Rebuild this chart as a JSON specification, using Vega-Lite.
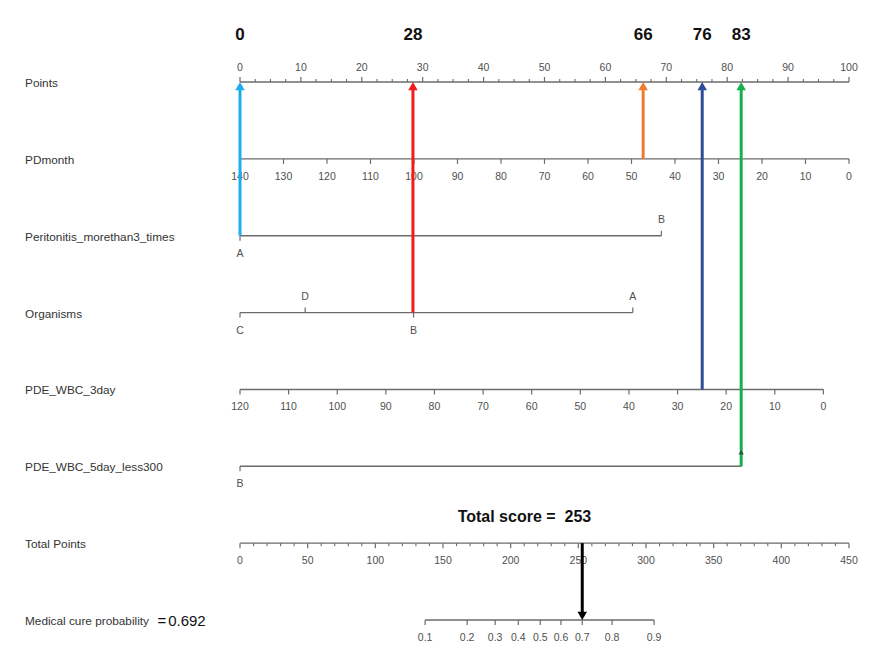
{
  "$schema": "https://vega.github.io/schema/vega-lite/v6.json",
  "autosize": {"type": "fit", "contains": "padding"},
  "width": 884,
  "height": 646,
  "padding": 0,
  "background": "white",
  "config": {"view": {"stroke": null}},
  "datasets": {
    "rows": [
      {"row": 0, "name": "Points"},
      {"row": 1, "name": "PDmonth"},
      {"row": 2, "name": "Peritonitis_morethan3_times"},
      {"row": 3, "name": "Organisms"},
      {"row": 4, "name": "PDE_WBC_3day"},
      {"row": 5, "name": "PDE_WBC_5day_less300"},
      {"row": 6, "name": "Total Points"},
      {"row": 7, "name": "Medical cure probability"}
    ],
    "lines": [
      {"row": 0, "start": 0, "end": 100},
      {"row": 1, "start": 0, "end": 100},
      {"row": 2, "start": 0, "end": 69.2},
      {"row": 3, "start": 0, "end": 64.5},
      {"row": 4, "start": 0, "end": 95.8},
      {"row": 5, "start": 0, "end": 82.3},
      {"row": 6, "start": 0, "end": 100},
      {"row": 7, "start": 30.4, "end": 68.0}
    ],
    "ticks": [
      {"row": 0, "pos": 0, "label": "0", "kind": "major", "side": "above"},
      {"row": 0, "pos": 10, "label": "10", "kind": "major", "side": "above"},
      {"row": 0, "pos": 20, "label": "20", "kind": "major", "side": "above"},
      {"row": 0, "pos": 30, "label": "30", "kind": "major", "side": "above"},
      {"row": 0, "pos": 40, "label": "40", "kind": "major", "side": "above"},
      {"row": 0, "pos": 50, "label": "50", "kind": "major", "side": "above"},
      {"row": 0, "pos": 60, "label": "60", "kind": "major", "side": "above"},
      {"row": 0, "pos": 70, "label": "70", "kind": "major", "side": "above"},
      {"row": 0, "pos": 80, "label": "80", "kind": "major", "side": "above"},
      {"row": 0, "pos": 90, "label": "90", "kind": "major", "side": "above"},
      {"row": 0, "pos": 100, "label": "100", "kind": "major", "side": "above"},
      {"row": 0, "pos": 2.5, "kind": "minor", "side": "above"},
      {"row": 0, "pos": 5, "kind": "minor", "side": "above"},
      {"row": 0, "pos": 7.5, "kind": "minor", "side": "above"},
      {"row": 0, "pos": 12.5, "kind": "minor", "side": "above"},
      {"row": 0, "pos": 15, "kind": "minor", "side": "above"},
      {"row": 0, "pos": 17.5, "kind": "minor", "side": "above"},
      {"row": 0, "pos": 22.5, "kind": "minor", "side": "above"},
      {"row": 0, "pos": 25, "kind": "minor", "side": "above"},
      {"row": 0, "pos": 27.5, "kind": "minor", "side": "above"},
      {"row": 0, "pos": 32.5, "kind": "minor", "side": "above"},
      {"row": 0, "pos": 35, "kind": "minor", "side": "above"},
      {"row": 0, "pos": 37.5, "kind": "minor", "side": "above"},
      {"row": 0, "pos": 42.5, "kind": "minor", "side": "above"},
      {"row": 0, "pos": 45, "kind": "minor", "side": "above"},
      {"row": 0, "pos": 47.5, "kind": "minor", "side": "above"},
      {"row": 0, "pos": 52.5, "kind": "minor", "side": "above"},
      {"row": 0, "pos": 55, "kind": "minor", "side": "above"},
      {"row": 0, "pos": 57.5, "kind": "minor", "side": "above"},
      {"row": 0, "pos": 62.5, "kind": "minor", "side": "above"},
      {"row": 0, "pos": 65, "kind": "minor", "side": "above"},
      {"row": 0, "pos": 67.5, "kind": "minor", "side": "above"},
      {"row": 0, "pos": 72.5, "kind": "minor", "side": "above"},
      {"row": 0, "pos": 75, "kind": "minor", "side": "above"},
      {"row": 0, "pos": 77.5, "kind": "minor", "side": "above"},
      {"row": 0, "pos": 82.5, "kind": "minor", "side": "above"},
      {"row": 0, "pos": 85, "kind": "minor", "side": "above"},
      {"row": 0, "pos": 87.5, "kind": "minor", "side": "above"},
      {"row": 0, "pos": 92.5, "kind": "minor", "side": "above"},
      {"row": 0, "pos": 95, "kind": "minor", "side": "above"},
      {"row": 0, "pos": 97.5, "kind": "minor", "side": "above"},

      {"row": 1, "pos": 0, "label": "140", "kind": "major", "side": "below"},
      {"row": 1, "pos": 7.143, "label": "130", "kind": "major", "side": "below"},
      {"row": 1, "pos": 14.286, "label": "120", "kind": "major", "side": "below"},
      {"row": 1, "pos": 21.429, "label": "110", "kind": "major", "side": "below"},
      {"row": 1, "pos": 28.571, "label": "100", "kind": "major", "side": "below"},
      {"row": 1, "pos": 35.714, "label": "90", "kind": "major", "side": "below"},
      {"row": 1, "pos": 42.857, "label": "80", "kind": "major", "side": "below"},
      {"row": 1, "pos": 50, "label": "70", "kind": "major", "side": "below"},
      {"row": 1, "pos": 57.143, "label": "60", "kind": "major", "side": "below"},
      {"row": 1, "pos": 64.286, "label": "50", "kind": "major", "side": "below"},
      {"row": 1, "pos": 71.429, "label": "40", "kind": "major", "side": "below"},
      {"row": 1, "pos": 78.571, "label": "30", "kind": "major", "side": "below"},
      {"row": 1, "pos": 85.714, "label": "20", "kind": "major", "side": "below"},
      {"row": 1, "pos": 92.857, "label": "10", "kind": "major", "side": "below"},
      {"row": 1, "pos": 100, "label": "0", "kind": "major", "side": "below"},

      {"row": 2, "pos": 0, "label": "A", "kind": "major", "side": "below"},
      {"row": 2, "pos": 69.2, "label": "B", "kind": "major", "side": "above"},

      {"row": 3, "pos": 0, "label": "C", "kind": "major", "side": "below"},
      {"row": 3, "pos": 10.7, "label": "D", "kind": "major", "side": "above"},
      {"row": 3, "pos": 28.5, "label": "B", "kind": "major", "side": "below"},
      {"row": 3, "pos": 64.5, "label": "A", "kind": "major", "side": "above"},

      {"row": 4, "pos": 0, "label": "120", "kind": "major", "side": "below"},
      {"row": 4, "pos": 7.98, "label": "110", "kind": "major", "side": "below"},
      {"row": 4, "pos": 15.97, "label": "100", "kind": "major", "side": "below"},
      {"row": 4, "pos": 23.95, "label": "90", "kind": "major", "side": "below"},
      {"row": 4, "pos": 31.93, "label": "80", "kind": "major", "side": "below"},
      {"row": 4, "pos": 39.92, "label": "70", "kind": "major", "side": "below"},
      {"row": 4, "pos": 47.9, "label": "60", "kind": "major", "side": "below"},
      {"row": 4, "pos": 55.88, "label": "50", "kind": "major", "side": "below"},
      {"row": 4, "pos": 63.87, "label": "40", "kind": "major", "side": "below"},
      {"row": 4, "pos": 71.85, "label": "30", "kind": "major", "side": "below"},
      {"row": 4, "pos": 79.83, "label": "20", "kind": "major", "side": "below"},
      {"row": 4, "pos": 87.82, "label": "10", "kind": "major", "side": "below"},
      {"row": 4, "pos": 95.8, "label": "0", "kind": "major", "side": "below"},

      {"row": 5, "pos": 0, "label": "B", "kind": "major", "side": "below"},
      {"row": 5, "pos": 82.3, "label": "", "kind": "major", "side": "above"},

      {"row": 6, "pos": 0, "label": "0", "kind": "major", "side": "below"},
      {"row": 6, "pos": 11.111, "label": "50", "kind": "major", "side": "below"},
      {"row": 6, "pos": 22.222, "label": "100", "kind": "major", "side": "below"},
      {"row": 6, "pos": 33.333, "label": "150", "kind": "major", "side": "below"},
      {"row": 6, "pos": 44.444, "label": "200", "kind": "major", "side": "below"},
      {"row": 6, "pos": 55.556, "label": "250", "kind": "major", "side": "below"},
      {"row": 6, "pos": 66.667, "label": "300", "kind": "major", "side": "below"},
      {"row": 6, "pos": 77.778, "label": "350", "kind": "major", "side": "below"},
      {"row": 6, "pos": 88.889, "label": "400", "kind": "major", "side": "below"},
      {"row": 6, "pos": 100, "label": "450", "kind": "major", "side": "below"},
      {"row": 6, "pos": 2.222, "kind": "minor", "side": "below"},
      {"row": 6, "pos": 4.444, "kind": "minor", "side": "below"},
      {"row": 6, "pos": 6.667, "kind": "minor", "side": "below"},
      {"row": 6, "pos": 8.889, "kind": "minor", "side": "below"},
      {"row": 6, "pos": 13.333, "kind": "minor", "side": "below"},
      {"row": 6, "pos": 15.556, "kind": "minor", "side": "below"},
      {"row": 6, "pos": 17.778, "kind": "minor", "side": "below"},
      {"row": 6, "pos": 20, "kind": "minor", "side": "below"},
      {"row": 6, "pos": 24.444, "kind": "minor", "side": "below"},
      {"row": 6, "pos": 26.667, "kind": "minor", "side": "below"},
      {"row": 6, "pos": 28.889, "kind": "minor", "side": "below"},
      {"row": 6, "pos": 31.111, "kind": "minor", "side": "below"},
      {"row": 6, "pos": 35.556, "kind": "minor", "side": "below"},
      {"row": 6, "pos": 37.778, "kind": "minor", "side": "below"},
      {"row": 6, "pos": 40, "kind": "minor", "side": "below"},
      {"row": 6, "pos": 42.222, "kind": "minor", "side": "below"},
      {"row": 6, "pos": 46.667, "kind": "minor", "side": "below"},
      {"row": 6, "pos": 48.889, "kind": "minor", "side": "below"},
      {"row": 6, "pos": 51.111, "kind": "minor", "side": "below"},
      {"row": 6, "pos": 53.333, "kind": "minor", "side": "below"},
      {"row": 6, "pos": 57.778, "kind": "minor", "side": "below"},
      {"row": 6, "pos": 60, "kind": "minor", "side": "below"},
      {"row": 6, "pos": 62.222, "kind": "minor", "side": "below"},
      {"row": 6, "pos": 64.444, "kind": "minor", "side": "below"},
      {"row": 6, "pos": 68.889, "kind": "minor", "side": "below"},
      {"row": 6, "pos": 71.111, "kind": "minor", "side": "below"},
      {"row": 6, "pos": 73.333, "kind": "minor", "side": "below"},
      {"row": 6, "pos": 75.556, "kind": "minor", "side": "below"},
      {"row": 6, "pos": 80, "kind": "minor", "side": "below"},
      {"row": 6, "pos": 82.222, "kind": "minor", "side": "below"},
      {"row": 6, "pos": 84.444, "kind": "minor", "side": "below"},
      {"row": 6, "pos": 86.667, "kind": "minor", "side": "below"},
      {"row": 6, "pos": 91.111, "kind": "minor", "side": "below"},
      {"row": 6, "pos": 93.333, "kind": "minor", "side": "below"},
      {"row": 6, "pos": 95.556, "kind": "minor", "side": "below"},
      {"row": 6, "pos": 97.778, "kind": "minor", "side": "below"},

      {"row": 7, "pos": 30.4, "label": "0.1", "kind": "major", "side": "below"},
      {"row": 7, "pos": 37.3, "label": "0.2", "kind": "major", "side": "below"},
      {"row": 7, "pos": 41.9, "label": "0.3", "kind": "major", "side": "below"},
      {"row": 7, "pos": 45.7, "label": "0.4", "kind": "major", "side": "below"},
      {"row": 7, "pos": 49.3, "label": "0.5", "kind": "major", "side": "below"},
      {"row": 7, "pos": 52.7, "label": "0.6", "kind": "major", "side": "below"},
      {"row": 7, "pos": 56.2, "label": "0.7", "kind": "major", "side": "below"},
      {"row": 7, "pos": 61.1, "label": "0.8", "kind": "major", "side": "below"},
      {"row": 7, "pos": 68.0, "label": "0.9", "kind": "major", "side": "below"}
    ],
    "arrows": [
      {"id": "a", "x": 0, "fromRow": 2, "toRow": 0, "label": "0"},
      {"id": "b", "x": 28.4, "fromRow": 3, "toRow": 0, "label": "28"},
      {"id": "c", "x": 66.2, "fromRow": 1, "toRow": 0, "label": "66"},
      {"id": "d", "x": 75.9, "fromRow": 4, "toRow": 0, "label": "76"},
      {"id": "e", "x": 82.3, "fromRow": 5, "toRow": 0, "label": "83"}
    ],
    "total": [
      {"x": 56.2, "fromRow": 6, "toRow": 7, "score": 253, "prob": 0.692}
    ]
  },
  "encoding": {
    "x": {"type": "quantitative", "axis": null, "scale": {"domain": [-39.41, 105.75], "nice": false, "zero": false}},
    "y": {"type": "quantitative", "axis": null, "scale": {"domain": [-1.067, 7.338], "nice": false, "zero": false, "reverse": true}}
  },
  "layer": [
    {
      "data": {"name": "lines"},
      "mark": {"type": "rule", "color": "#6b6b6b", "strokeWidth": 1.4},
      "encoding": {"x": {"field": "start", "type": "quantitative"}, "x2": {"field": "end"}, "y": {"field": "row", "type": "quantitative"}}
    },
    {
      "data": {"name": "ticks"},
      "transform": [{"filter": "datum.side == 'above' && datum.kind == 'major'"}],
      "mark": {"type": "rule", "color": "#6b6b6b", "strokeWidth": 1.2, "y2Offset": -5},
      "encoding": {"x": {"field": "pos", "type": "quantitative"}, "y": {"field": "row", "type": "quantitative"}, "y2": {"field": "row"}}
    },
    {
      "data": {"name": "ticks"},
      "transform": [{"filter": "datum.side == 'above' && datum.kind == 'minor'"}],
      "mark": {"type": "rule", "color": "#6b6b6b", "strokeWidth": 1.1, "y2Offset": -3},
      "encoding": {"x": {"field": "pos", "type": "quantitative"}, "y": {"field": "row", "type": "quantitative"}, "y2": {"field": "row"}}
    },
    {
      "data": {"name": "ticks"},
      "transform": [{"filter": "datum.side == 'below' && datum.kind == 'major'"}],
      "mark": {"type": "rule", "color": "#6b6b6b", "strokeWidth": 1.2, "y2Offset": 5},
      "encoding": {"x": {"field": "pos", "type": "quantitative"}, "y": {"field": "row", "type": "quantitative"}, "y2": {"field": "row"}}
    },
    {
      "data": {"name": "ticks"},
      "transform": [{"filter": "datum.side == 'below' && datum.kind == 'minor'"}],
      "mark": {"type": "rule", "color": "#6b6b6b", "strokeWidth": 1.1, "y2Offset": 3},
      "encoding": {"x": {"field": "pos", "type": "quantitative"}, "y": {"field": "row", "type": "quantitative"}, "y2": {"field": "row"}}
    },
    {
      "data": {"name": "ticks"},
      "transform": [{"filter": "datum.row == 0 && datum.kind == 'major'"}],
      "mark": {"type": "text", "font": "Liberation Sans", "fontSize": 10.5, "color": "#505050", "baseline": "middle", "align": "center", "dy": -14},
      "encoding": {"x": {"field": "pos", "type": "quantitative"}, "y": {"field": "row", "type": "quantitative"}, "text": {"field": "label"}}
    },
    {
      "data": {"name": "ticks"},
      "transform": [{"filter": "datum.row != 0 && datum.side == 'above' && datum.kind == 'major'"}],
      "mark": {"type": "text", "font": "Liberation Sans", "fontSize": 10.5, "color": "#505050", "baseline": "middle", "align": "center", "dy": -16},
      "encoding": {"x": {"field": "pos", "type": "quantitative"}, "y": {"field": "row", "type": "quantitative"}, "text": {"field": "label"}}
    },
    {
      "data": {"name": "ticks"},
      "transform": [{"filter": "datum.side == 'below' && datum.kind == 'major'"}],
      "mark": {"type": "text", "font": "Liberation Sans", "fontSize": 10.5, "color": "#505050", "baseline": "middle", "align": "center", "dy": 18},
      "encoding": {"x": {"field": "pos", "type": "quantitative"}, "y": {"field": "row", "type": "quantitative"}, "text": {"field": "label"}}
    },
    {
      "data": {"name": "rows"},
      "mark": {"type": "text", "font": "Liberation Sans", "fontSize": 11.8, "color": "#333333", "baseline": "middle", "align": "left", "dy": 1},
      "encoding": {"x": {"datum": -35.3}, "y": {"field": "row", "type": "quantitative"}, "text": {"field": "name"}}
    },
    {
      "data": {"name": "total"},
      "mark": {"type": "text", "font": "Liberation Sans", "fontSize": 15, "color": "#111111", "baseline": "middle", "align": "left", "dy": 1},
      "encoding": {"x": {"datum": -11.8}, "y": {"field": "toRow", "type": "quantitative"}, "text": {"field": "prob", "format": ".3f"}}
    },
    {
      "data": {"name": "total"},
      "mark": {"type": "text", "font": "Liberation Sans", "fontSize": 15, "color": "#111111", "baseline": "middle", "align": "right", "dy": 1},
      "encoding": {"x": {"datum": -12.1}, "y": {"field": "toRow", "type": "quantitative"}, "text": {"value": "="}}
    },
    {
      "data": {"name": "total"},
      "mark": {"type": "text", "font": "Liberation Sans", "fontWeight": "bold", "fontSize": 16, "color": "#111111", "baseline": "middle", "align": "center", "dy": -26},
      "encoding": {"x": {"datum": 46.7}, "y": {"field": "fromRow", "type": "quantitative"}, "text": {"value": "Total score = \u00a0253"}}
    },
    {
      "data": {"name": "arrows"},
      "mark": {"type": "rule", "strokeWidth": 3, "y2Offset": 6},
      "encoding": {
        "x": {"field": "x", "type": "quantitative"},
        "y": {"field": "fromRow", "type": "quantitative"},
        "y2": {"field": "toRow"},
        "color": {"field": "id", "type": "nominal", "legend": null, "scale": {"domain": ["a", "b", "c", "d", "e"], "range": ["#1CADEF", "#F21B1B", "#EE7B30", "#2F4C98", "#15B04D"]}}
      }
    },
    {
      "data": {"name": "arrows"},
      "mark": {"type": "point", "shape": "triangle-up", "filled": true, "opacity": 1, "size": 90, "yOffset": 4.2},
      "encoding": {
        "x": {"field": "x", "type": "quantitative"},
        "y": {"field": "toRow", "type": "quantitative"},
        "color": {"field": "id", "type": "nominal", "legend": null}
      }
    },
    {
      "data": {"name": "arrows"},
      "mark": {"type": "text", "font": "Liberation Sans", "fontWeight": "bold", "fontSize": 17, "color": "#111111", "baseline": "middle", "align": "center", "dy": -47},
      "encoding": {"x": {"field": "x", "type": "quantitative"}, "y": {"field": "toRow", "type": "quantitative"}, "text": {"field": "label"}}
    },
    {
      "data": {"name": "arrows"},
      "transform": [{"filter": "datum.id == 'e'"}],
      "mark": {"type": "point", "shape": "triangle-up", "filled": true, "opacity": 1, "size": 28, "yOffset": -14, "color": "#2E5440"},
      "encoding": {"x": {"field": "x", "type": "quantitative"}, "y": {"field": "fromRow", "type": "quantitative"}}
    },
    {
      "data": {"name": "total"},
      "mark": {"type": "rule", "strokeWidth": 3, "color": "#000000", "y2Offset": -6},
      "encoding": {"x": {"field": "x", "type": "quantitative"}, "y": {"field": "fromRow", "type": "quantitative"}, "y2": {"field": "toRow"}}
    },
    {
      "data": {"name": "total"},
      "mark": {"type": "point", "shape": "triangle-down", "filled": true, "opacity": 1, "size": 90, "yOffset": -4.2, "color": "#000000"},
      "encoding": {"x": {"field": "x", "type": "quantitative"}, "y": {"field": "toRow", "type": "quantitative"}}
    }
  ]
}
